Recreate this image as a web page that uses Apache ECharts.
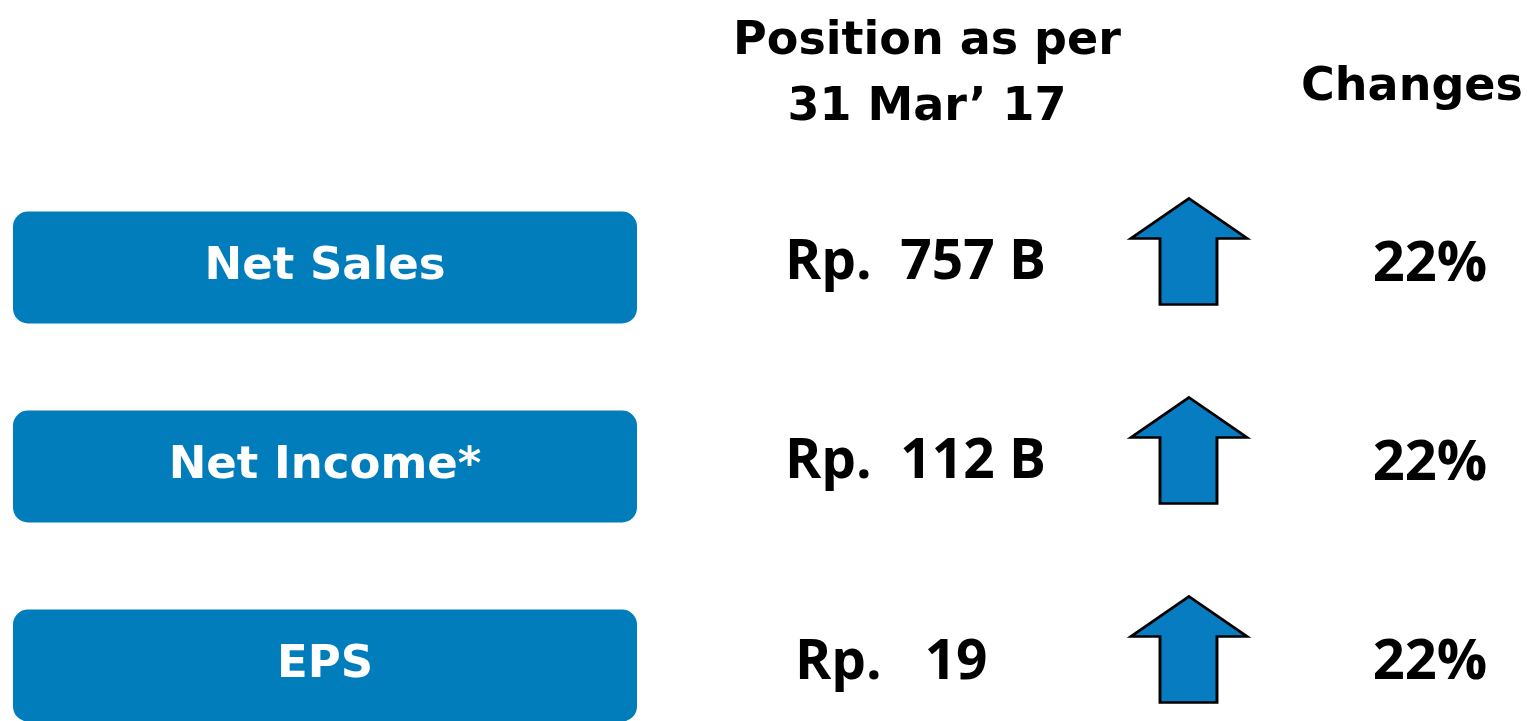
<!DOCTYPE html>
<html>
<head>
<meta charset="utf-8">
<script src="https://cdn.jsdelivr.net/npm/echarts@6/dist/echarts.min.js"></script>
<style>
  html, body { margin: 0; padding: 0; background: #ffffff; }
  #chart { width: 1532px; height: 721px; }
</style>
</head>
<body>
<div id="chart"></div>
<script>
// ---- data ----
const metrics = ['Net Sales', 'Net Income*', 'EPS'];
const positionValues = [757, 112, 19];
const positionUnits = ['B', 'B', ''];
const changePct = [22, 22, 22];
const columnHeaders = ['Position as per\n31 Mar\u2019 17', ' ', 'Changes'];

// ---- styles ----
const HEAD_FONT = 'DejaVu Sans';
const VAL_FONT = 'Open Sans';
const BLUE = '#027DBB';
const ARROW_BLUE = '#077CC0';
const ARROW_PATH = 'path://M58,0 L116,40 L86,40 L86,106 L29,106 L29,40 L0,40 Z';

const chart = echarts.init(document.getElementById('chart'), null, { renderer: 'canvas' });

const valueData = positionValues.map((v, i) => ({
  value: [0, i, v],
  unit: positionUnits[i],
  label: positionUnits[i] ? {} : { offset: [-144, -2] }
}));
const arrowData = changePct.map((v, i) => ({ value: [1, i, v] }));
const pctData = changePct.map((v, i) => ({ value: [2, i, v] }));

const option = {
  backgroundColor: '#ffffff',
  animation: false,
  grid: { left: 814, width: 750, top: 168, height: 597, containLabel: false, outerBoundsMode: 'none' },
  xAxis: {
    type: 'category',
    position: 'top',
    data: columnHeaders.map((h, i) => i === 2
      ? { value: h, textStyle: { padding: [0, 54, 20, 0] } }
      : { value: h, textStyle: { padding: [0, 24, 0, 0] } }),
    axisLine: { show: false },
    axisTick: { show: false },
    splitLine: { show: false },
    axisLabel: {
      interval: 0,
      margin: 27,
      color: '#000',
      fontFamily: HEAD_FONT,
      fontWeight: 'bold',
      fontSize: 46,
      lineHeight: 66
    }
  },
  yAxis: {
    type: 'category',
    inverse: true,
    data: metrics,
    axisLine: { show: false },
    axisTick: { show: false },
    splitLine: { show: false },
    axisLabel: {
      interval: 0,
      margin: 489,
      align: 'center',
      verticalAlign: 'middle',
      color: '#ffffff',
      fontFamily: HEAD_FONT,
      fontWeight: 'bold',
      fontSize: 45,
      width: 624,
      height: 98,
      lineHeight: 98,
      padding: [14, 0, 0, 0],
      backgroundColor: BLUE,
      borderRadius: 15
    }
  },
  series: [
    {
      type: 'scatter',
      name: 'Position',
      symbolSize: 1,
      itemStyle: { color: 'rgba(0,0,0,0)', opacity: 1 },
      data: valueData,
      label: {
        show: true,
        position: 'inside',
        align: 'left',
        verticalAlign: 'middle',
        offset: [-154, -4],
        color: '#000',
        fontFamily: VAL_FONT,
        fontWeight: 'bold',
        fontSize: 55,
        formatter: p => p.data.unit
          ? 'Rp.  ' + p.value[2] + ' ' + p.data.unit
          : 'Rp.   ' + p.value[2]
      }
    },
    {
      type: 'scatter',
      name: 'Arrow',
      symbol: ARROW_PATH,
      symbolSize: [116, 106],
      symbolOffset: [0, -16],
      symbolRotate: v => (v[2] >= 0 ? 0 : 180),
      itemStyle: { color: ARROW_BLUE, borderColor: '#000', borderWidth: 2.8, opacity: 1 },
      data: arrowData
    },
    {
      type: 'scatter',
      name: 'Changes',
      symbolSize: 1,
      itemStyle: { color: 'rgba(0,0,0,0)', opacity: 1 },
      data: pctData,
      label: {
        show: true,
        position: 'inside',
        align: 'center',
        verticalAlign: 'middle',
        offset: [-9, -2],
        color: '#000',
        fontFamily: VAL_FONT,
        fontWeight: 'bold',
        fontSize: 56,
        formatter: p => p.value[2] + '%'
      }
    }
  ]
};

chart.setOption(option);
</script>
</body>
</html>
